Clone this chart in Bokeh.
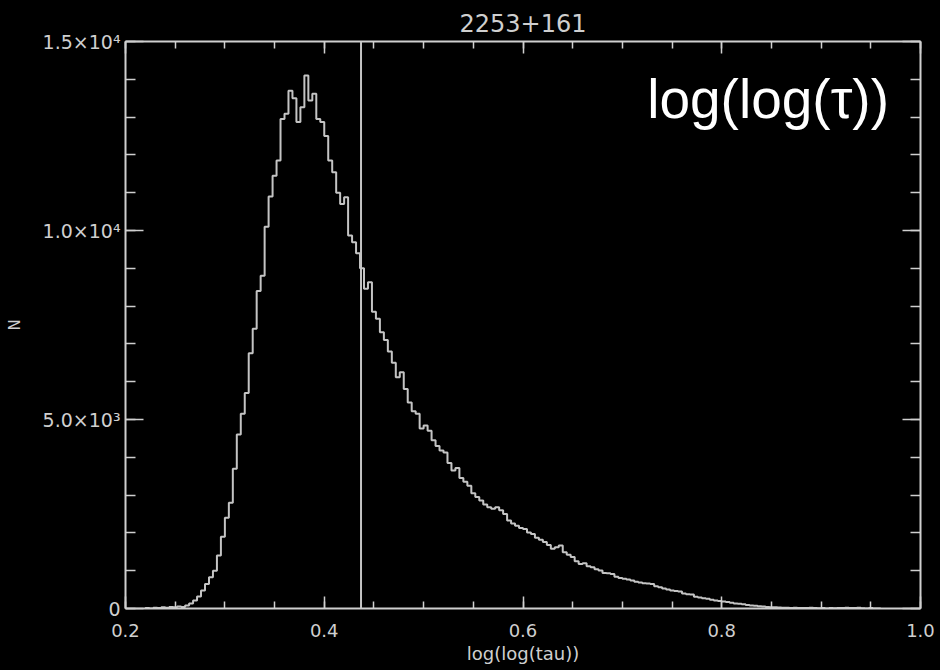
from bokeh.plotting import figure
from bokeh.models import (Range1d, LinearAxis, FixedTicker, Span, Label,
                          CustomLabelingPolicy)
from bokeh.embed import file_html
from bokeh.resources import INLINE
import numpy as np

# ---------------- data ----------------
title_text = "2253+161"
x_label = "log(log(tau))"
y_label = "N"
big_text = "log(log(\u03c4))"

bin_start = 0.220
bin_width = 0.004
counts = [
    10, 0, 20, 10, 30, 20, 40, 30, 50, 40,
    80, 130, 210, 320, 475, 650, 830, 1000, 1400, 1900,
    2400, 2800, 3700, 4600, 5150, 5700, 6750, 7400, 8400, 8800,
    10100, 10900, 11450, 11850, 12950, 13090, 13700, 13500, 12870, 13260,
    14100, 13440, 13620, 12950, 12870, 12500, 11850, 11540, 11000, 10700,
    10880, 9870, 9690, 9400, 9000, 8460, 8630, 7850, 7665, 7310,
    7100, 6800, 6500, 6120, 6250, 5810, 5450, 5220, 5150, 4760,
    4840, 4700, 4450, 4300, 4180, 4130, 3850, 3650, 3720, 3450,
    3350, 3250, 3050, 2950, 2860, 2750, 2680, 2640, 2680, 2600,
    2500, 2330, 2250, 2190, 2130, 2100, 2010, 1970, 1870, 1820,
    1760, 1680, 1580, 1620, 1665, 1490, 1420, 1360, 1250, 1180,
    1200, 1120, 1090, 1040, 1005, 940, 930, 910, 840, 810,
    790, 770, 740, 710, 690, 670, 660, 650, 590, 565,
    530, 500, 475, 465, 450, 400, 380, 370, 310, 290,
    270, 255, 230, 210, 200, 185, 175, 150, 135, 125,
    110, 95, 80, 75, 60, 50, 40, 35, 30, 25,
    20, 20, 15, 20, 10, 15, 10, 20, 10, 5,
    10, 0, 10, 5, 15, 10, 20, 15, 10, 20,
    5, 0, 10, 0, 0,
]
marker_x = 0.437

x_major = [0.2, 0.4, 0.6, 0.8, 1.0]
x_minor = [0.2 + 0.05 * i for i in range(17)]
x_tick_labels = ["0.2", "0.4", "0.6", "0.8", "1.0"]
y_major = [0, 5000, 10000, 15000]
y_minor = list(range(0, 15001, 1000))
y_tick_labels = ["0", "5.0\u00d710\u00b3", "1.0\u00d710\u2074", "1.5\u00d710\u2074"]

# ---------------- figure ----------------
FG = "#cfcfcf"
LINE = "#c4c4c4"

p = figure(width=936, height=666, output_backend="svg", toolbar_location=None,
           x_range=Range1d(0.2, 1.0), y_range=Range1d(0, 15000),
           x_axis_type=None, y_axis_type=None,
           min_border_left=125, min_border_right=16,
           min_border_top=41, min_border_bottom=58)
p.background_fill_color = "black"
p.border_fill_color = "black"
p.outline_line_color = None
p.xgrid.visible = False
p.ygrid.visible = False

p.title.text = title_text
p.title.align = "center"
p.title.vertical_align = "top"
p.title.text_font = "DejaVu Sans"
p.title.text_font_size = "24px"
p.title.text_font_style = "normal"
p.title.text_color = FG
p.title.standoff = 16
p.title.offset = 0

no_labels = CustomLabelingPolicy(code="""
try {
  const arr = Array.from(indices);
  for (const i of arr) { indices.unset(i); }
} catch (e) {}
return indices;
""")

def style_axis(ax, major_len, minor_len, show_labels):
    ax.axis_line_color = FG
    ax.axis_line_width = 2
    ax.major_tick_line_color = FG
    ax.minor_tick_line_color = FG
    ax.major_tick_line_width = 1.5
    ax.minor_tick_line_width = 1.5
    ax.major_tick_in = major_len
    ax.major_tick_out = 0
    ax.minor_tick_in = minor_len
    ax.minor_tick_out = 0
    ax.major_label_text_color = FG
    ax.major_label_text_font = "DejaVu Sans"
    ax.major_label_text_font_size = "18px"
    ax.axis_label_text_color = FG
    ax.axis_label_text_font = "DejaVu Sans"
    ax.axis_label_text_font_style = "normal"
    if not show_labels:
        ax.major_label_policy = no_labels
        ax.major_label_text_font_size = "0px"
        ax.major_label_standoff = 0

xt = FixedTicker(ticks=x_major, minor_ticks=x_minor)
yt = FixedTicker(ticks=y_major, minor_ticks=y_minor)

xb = LinearAxis(ticker=xt, axis_label=x_label,
                major_label_overrides=dict(zip(x_major, x_tick_labels)))
style_axis(xb, 12, 7, True)
xb.major_label_standoff = 15
xb.axis_label_standoff = 3
xb.axis_label_text_font_size = "18px"
p.add_layout(xb, "below")

xa = LinearAxis(ticker=xt)
style_axis(xa, 12, 7, False)
p.add_layout(xa, "above")

yl = LinearAxis(ticker=yt, axis_label=y_label,
                major_label_overrides=dict(zip(y_major, y_tick_labels)))
style_axis(yl, 18, 10, True)
yl.major_label_text_font_size = "19px"
yl.major_label_standoff = 5
yl.axis_label_standoff = 16
yl.axis_label_text_font_size = "15px"
p.add_layout(yl, "left")

yr = LinearAxis(ticker=yt)
style_axis(yr, 18, 10, False)
p.add_layout(yr, "right")

# histogram as a step line
n = len(counts)
edges = bin_start + bin_width * np.arange(n + 1)
xs = np.concatenate([[edges[0]], edges, [edges[-1]]])
ys = np.concatenate([[0], counts, [counts[-1], 0]])
p.step(x=xs, y=ys, mode="after", line_color=LINE, line_width=2)

p.add_layout(Span(location=marker_x, dimension="height",
                  line_color=LINE, line_width=2))

p.add_layout(Label(x=0.725, y=13490, text=big_text,
                   text_font="Liberation Sans", text_font_size="55px",
                   text_color="white", text_baseline="alphabetic"))

html = file_html(p, INLINE)
html = html.replace("</head>",
                    "<style>html,body{background:#000;}</style></head>", 1)
open("out.html", "w").write(html)
